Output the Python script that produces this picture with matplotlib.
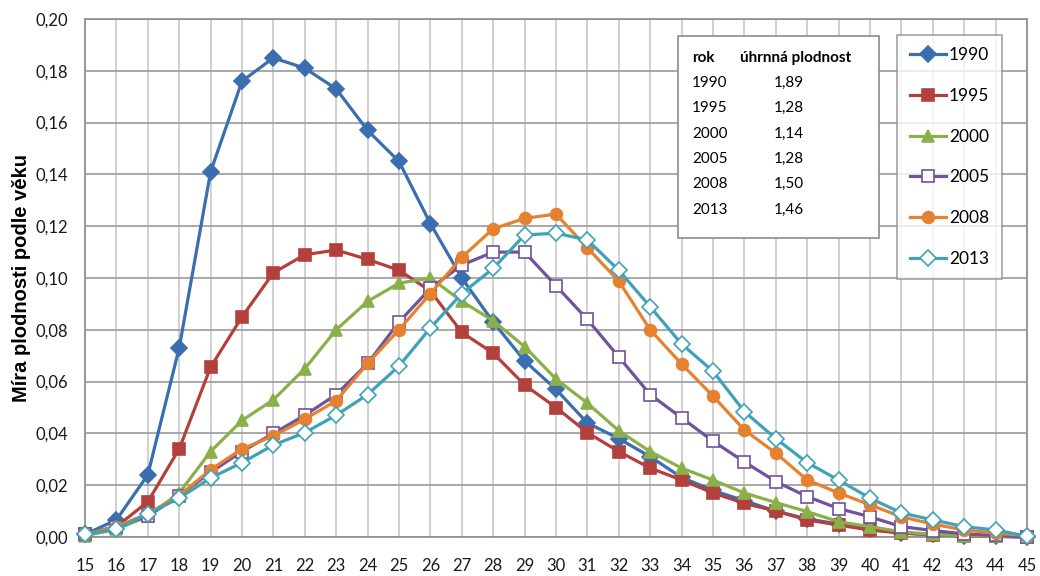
import matplotlib
matplotlib.use("Agg")
import matplotlib.pyplot as plt
from matplotlib.patches import Rectangle

# Age-specific fertility rates by single year of age
ages = list(range(15, 46))

rates_1990 = [0.001, 0.0066, 0.024, 0.073, 0.141, 0.176, 0.185, 0.181, 0.173, 0.157,
              0.145, 0.121, 0.100, 0.083, 0.068, 0.057, 0.044, 0.038, 0.031, 0.023,
              0.018, 0.014, 0.010, 0.007, 0.005, 0.003, 0.0015, 0.001, 0.0005, 0.0003, 0.0]
rates_1995 = [0.001, 0.004, 0.0136, 0.034, 0.0656, 0.085, 0.102, 0.109, 0.1108, 0.1072,
              0.103, 0.095, 0.079, 0.071, 0.0587, 0.050, 0.0403, 0.033, 0.0266, 0.022,
              0.017, 0.013, 0.010, 0.0066, 0.0046, 0.0027, 0.0015, 0.0008, 0.0004, 0.0002, 0.0]
rates_2000 = [0.0005, 0.003, 0.008, 0.017, 0.033, 0.045, 0.053, 0.065, 0.080, 0.091,
              0.098, 0.100, 0.091, 0.0835, 0.0735, 0.061, 0.0517, 0.041, 0.033, 0.0266,
              0.022, 0.017, 0.0133, 0.0098, 0.0059, 0.004, 0.002, 0.001, 0.0005, 0.0003, 0.0]
rates_2005 = [0.001, 0.004, 0.008, 0.016, 0.025, 0.033, 0.040, 0.047, 0.055, 0.067,
              0.083, 0.096, 0.105, 0.110, 0.110, 0.097, 0.084, 0.0695, 0.055, 0.046,
              0.037, 0.029, 0.0214, 0.0156, 0.011, 0.0078, 0.004, 0.0025, 0.0012, 0.0006, 0.0]
rates_2008 = [0.001, 0.004, 0.009, 0.016, 0.026, 0.034, 0.039, 0.0455, 0.0526, 0.067,
              0.080, 0.094, 0.108, 0.119, 0.123, 0.1247, 0.1116, 0.0988, 0.080, 0.0668,
              0.0544, 0.0413, 0.0324, 0.022, 0.017, 0.0124, 0.0078, 0.005, 0.0027, 0.0015, 0.0005]
rates_2013 = [0.001, 0.003, 0.009, 0.015, 0.0228, 0.0287, 0.0355, 0.0403, 0.047, 0.055,
              0.066, 0.0807, 0.094, 0.1037, 0.1166, 0.1173, 0.1147, 0.103, 0.0889, 0.0745,
              0.064, 0.0484, 0.038, 0.0287, 0.022, 0.015, 0.0093, 0.0066, 0.004, 0.0027, 0.0003]

series_labels = ["1990", "1995", "2000", "2005", "2008", "2013"]
series_values = [rates_1990, rates_1995, rates_2000, rates_2005, rates_2008, rates_2013]

# Total fertility rate table
tfr_years = ["1990", "1995", "2000", "2005", "2008", "2013"]
tfr_values = [1.89, 1.28, 1.14, 1.28, 1.50, 1.46]

y_ticks = [0.00, 0.02, 0.04, 0.06, 0.08, 0.10, 0.12, 0.14, 0.16, 0.18, 0.20]

colors = ["#3A6EAE", "#B4403D", "#8AB04A", "#71529C", "#E6812F", "#3EA2BA"]
markers = ["D", "s", "^", "s", "o", "D"]
filled = [True, True, True, False, True, False]
msizes = [8, 8.5, 9, 8.5, 8.5, 8]

plt.rcParams["font.family"] = ["Lato", "DejaVu Sans"]

fig = plt.figure(figsize=(10.4, 5.76), dpi=100)
ax = fig.add_axes([85 / 1040, 1 - 537 / 576, (1027 - 85) / 1040, (537 - 19) / 576])

for label, vals, c, m, f, ms in zip(series_labels, series_values, colors, markers, filled, msizes):
    ax.plot(ages, vals, color=c, lw=2.3, marker=m, markersize=ms,
            markerfacecolor=c if f else "white", markeredgecolor=c,
            markeredgewidth=1.2, label=label, zorder=3, clip_on=False)

ax.set_xlim(15, 45)
ax.set_ylim(0, 0.20)
ax.set_xticks(ages)
ax.set_xticklabels([str(a) for a in ages])
ax.set_yticks(y_ticks)
ax.set_yticklabels([f"{v:.2f}".replace(".", ",") for v in y_ticks])

ax.grid(axis="x", color="#C8C8C8", lw=1.2, zorder=0)
ax.grid(axis="y", color="#9A9A9A", lw=1.2, zorder=0)
ax.set_axisbelow(True)
for s in ax.spines.values():
    s.set_color("#8C8C8C")
    s.set_linewidth(1.2)
ax.tick_params(axis="both", length=0, labelsize=12, colors="#1A1A1A")
ax.tick_params(axis="x", pad=15)
ax.tick_params(axis="y", pad=12)

ax.set_ylabel("Míra plodnosti podle věku", fontsize=14.5, fontweight="bold",
              family=["Liberation Sans", "DejaVu Sans"])
ax.yaxis.set_label_coords(-0.057, 0.5)

# Total fertility table box
tx0, ty0, tx1, ty1 = 678, 36, 879, 238
fig.patches.append(Rectangle((tx0 / 1040, 1 - ty1 / 576), (tx1 - tx0) / 1040, (ty1 - ty0) / 576,
                             transform=fig.transFigure, facecolor="white",
                             edgecolor="#8C8C8C", lw=1.2, zorder=5))
fig.text(692 / 1040, 1 - 58 / 576, "rok", fontsize=11, fontweight="bold", va="center", zorder=6)
fig.text(740 / 1040, 1 - 58 / 576, "úhrnná plodnost", fontsize=11, fontweight="bold",
         va="center", zorder=6)
for i, (yr, v) in enumerate(zip(tfr_years, tfr_values)):
    yy = 83 + i * 25.3
    fig.text(692 / 1040, 1 - yy / 576, yr, fontsize=11, va="center", zorder=6)
    fig.text(774 / 1040, 1 - yy / 576, f"{v:.2f}".replace(".", ","), fontsize=11,
             va="center", zorder=6)

leg = ax.legend(loc="upper left", bbox_to_anchor=(897 / 1040, 1 - 35 / 576),
                bbox_transform=fig.transFigure, frameon=True, fancybox=False,
                fontsize=12.5, handlelength=2.1, handletextpad=0.17,
                labelspacing=1.42, borderpad=0.72, borderaxespad=0)
leg.get_frame().set_edgecolor("#8C8C8C")
leg.get_frame().set_linewidth(1.2)
leg.set_zorder(6)

fig.savefig("out.png", dpi=100, facecolor="white")
